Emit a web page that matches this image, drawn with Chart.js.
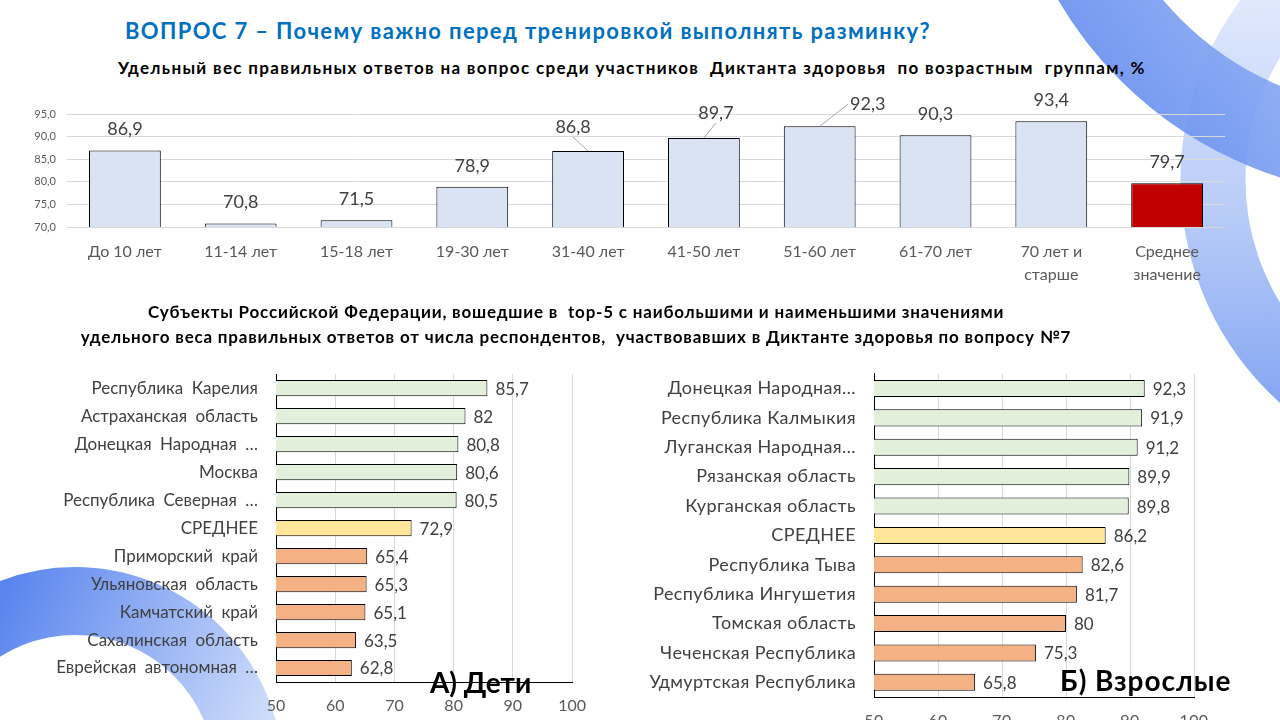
<!DOCTYPE html>
<html><head><meta charset="utf-8">
<script src="https://cdn.jsdelivr.net/npm/chart.js@4.4.1/dist/chart.umd.min.js"></script>
<style>
html,body{margin:0;padding:0;width:1280px;height:720px;overflow:hidden;background:#fff;font-family:Lato,'Noto Sans',sans-serif;}
#bg{position:absolute;left:0;top:0;z-index:0;}
canvas{position:absolute;z-index:1;}
.t{position:absolute;white-space:pre;z-index:2;font-weight:bold;}
#title{left:125px;top:17px;font-size:22px;line-height:28px;letter-spacing:1.35px;color:#0070C0;}
#sub{left:118px;top:57px;font-size:17px;line-height:22px;letter-spacing:1.33px;color:#000;}
#head{left:0;width:1152px;top:299px;font-size:17px;line-height:25px;letter-spacing:0.8px;color:#000;text-align:center;}
#capA{left:430px;top:665px;font-size:28px;line-height:34px;color:#000;}
#capB{left:1060px;top:663px;font-size:28px;line-height:34px;letter-spacing:1px;color:#000;}
</style></head>
<body>
<svg id="bg" width="1280" height="720" xmlns="http://www.w3.org/2000/svg">
<defs>
<linearGradient id="gA" x1="1060" y1="160" x2="1280" y2="0" gradientUnits="userSpaceOnUse">
<stop offset="0" stop-color="#5A84EE"/><stop offset="1" stop-color="#8FAEF4"/></linearGradient>
<linearGradient id="gB" x1="0" y1="0" x2="0" y2="430" gradientUnits="userSpaceOnUse">
<stop offset="0" stop-color="#DCE6FC"/><stop offset="0.5" stop-color="#B0C6F7"/><stop offset="1" stop-color="#7097F0"/></linearGradient>
<linearGradient id="gC" x1="0" y1="600" x2="280" y2="720" gradientUnits="userSpaceOnUse">
<stop offset="0" stop-color="#5A85EE"/><stop offset="1" stop-color="#D3E0FB"/></linearGradient>
</defs>
<circle cx="1480" cy="180" r="267" fill="none" stroke="url(#gB)" stroke-width="65" opacity="0.9"/>
<circle cx="1400" cy="-200" r="353" fill="none" stroke="url(#gA)" stroke-width="86" opacity="0.92"/>
<circle cx="75" cy="775" r="174" fill="none" stroke="url(#gC)" stroke-width="68"/>
</svg>

<div class="t" id="title">ВОПРОС 7 – Почему важно перед тренировкой выполнять разминку?</div>
<div class="t" id="sub">Удельный вес правильных ответов на вопрос среди участников  Диктанта здоровья  по возрастным  группам, %</div>
<div class="t" id="head">Субъекты Российской Федерации, вошедшие в  top-5 с наибольшими и наименьшими значениями
удельного веса правильных ответов от числа респондентов,  участвовавших в Диктанте здоровья по вопросу №7</div>

<canvas id="c1" width="1240" height="197" style="left:0;top:90px;width:1240px;height:197px"></canvas>
<canvas id="c2" width="600" height="374" style="left:0;top:346px;width:600px;height:374px"></canvas>
<canvas id="c3" width="660" height="382" style="left:620px;top:345px;width:660px;height:382px"></canvas>

<div class="t" id="capA">А) Дети</div>
<div class="t" id="capB">Б) Взрослые</div>

<script>
// ---- data ----
const ageCategories = ['До 10 лет','11-14 лет','15-18 лет','19-30 лет','31-40 лет','41-50 лет','51-60 лет','61-70 лет',['70 лет и','старше'],['Среднее','значение']];
const ageValues = [86.9,70.8,71.5,78.9,86.8,89.7,92.3,90.3,93.4,79.7];
const ageTicks = [70,75,80,85,90,95];

const childRegions = ['Республика Карелия','Астраханская область','Донецкая Народная …','Москва','Республика Северная …','СРЕДНЕЕ','Приморский край','Ульяновская область','Камчатский край','Сахалинская область','Еврейская автономная …'];
const childValues = [85.7,82,80.8,80.6,80.5,72.9,65.4,65.3,65.1,63.5,62.8];

const adultRegions = ['Донецкая Народная…','Республика Калмыкия','Луганская Народная…','Рязанская область','Курганская область','СРЕДНЕЕ','Республика Тыва','Республика Ингушетия','Томская область','Чеченская Республика','Удмуртская Республика'];
const adultValues = [92.3,91.9,91.2,89.9,89.8,86.2,82.6,81.7,80,75.3,65.8];

const regionTicks = [50,60,70,80,90,100];
const AVG_LABEL = 'СРЕДНЕЕ';

// ---- helpers ----
const FONT = 'Lato, "Noto Sans", sans-serif';
const fmt = v => String(v).replace('.', ',');
const fmt1 = v => v.toFixed(1).replace('.', ',');

const textSpacing = {
  id: 'textSpacing',
  beforeUpdate(chart, args, opts) { apply(chart, opts); },
  beforeDraw(chart, args, opts) { apply(chart, opts); }
};
function apply(chart, opts) {
  const ctx = chart.ctx;
  if (opts && opts.letter) ctx.letterSpacing = opts.letter;
  if (opts && opts.word) ctx.wordSpacing = opts.word;
}

const valueLabels = {
  id: 'valueLabels',
  afterDatasetsDraw(chart, args, opts) {
    const ctx = chart.ctx;
    const meta = chart.getDatasetMeta(0);
    const data = chart.data.datasets[0].data;
    ctx.save();
    ctx.letterSpacing = '0px';
    ctx.wordSpacing = '0px';
    ctx.font = opts.font;
    ctx.fillStyle = opts.color;
    meta.data.forEach((el, i) => {
      const txt = fmt(data[i]);
      if (chart.options.indexAxis === 'y') {
        ctx.textAlign = 'left';
        ctx.textBaseline = 'middle';
        ctx.fillText(txt, el.x + opts.gap, el.y + 1);
      } else {
        const off = (opts.offsets && opts.offsets[i]) || [0, 0];
        const lx = el.x + off[0], ly = el.y - opts.gap + off[1];
        if (off[0] || off[1]) {
          const tw = ctx.measureText(txt).width;
          let ex, ey;
          if (Math.abs(off[0]) > tw / 2) { ex = lx - Math.sign(off[0]) * (tw / 2 + 2); ey = ly; }
          else { ex = lx; ey = ly + 10; }
          ctx.strokeStyle = '#A6A6A6';
          ctx.lineWidth = 1;
          ctx.beginPath(); ctx.moveTo(el.x, el.y); ctx.lineTo(ex, ey); ctx.stroke();
        }
        ctx.textAlign = 'center';
        ctx.textBaseline = 'middle';
        ctx.fillText(txt, lx, ly);
      }
    });
    ctx.restore();
  }
};

// ---- top chart ----
new Chart(document.getElementById('c1'), {
  type: 'bar',
  data: {
    labels: ageCategories,
    datasets: [{
      data: ageValues,
      backgroundColor: ageValues.map((v, i) => i === ageValues.length - 1 ? '#C00000' : '#DAE3F3'),
      borderColor: '#000', borderWidth: 1,
      barPercentage: 0.62, categoryPercentage: 1
    }]
  },
  plugins: [valueLabels],
  options: {
    responsive: false, animation: false, events: [],
    layout: { padding: { top: 24, right: 15, left: 0, bottom: 0 } },
    plugins: {
      legend: { display: false }, tooltip: { enabled: false },
      valueLabels: { font: '18px ' + FONT, color: '#404040', gap: 21,
        offsets: { 4: [-15, -3], 5: [12, -4], 6: [48, -1] } }
    },
    scales: {
      y: {
        min: 70, max: 95,
        afterBuildTicks(s) { s.ticks = ageTicks.map(v => ({ value: v })); },
        afterFit(s) { s.width = 67; },
        grid: { color: '#D9D9D9', drawTicks: false },
        border: { display: false },
        ticks: { padding: 11, color: '#595959', font: { family: FONT, size: 11 }, callback: v => fmt1(v) }
      },
      x: {
        afterFit(s) { s.height = 60; },
        grid: { display: false, drawTicks: false },
        border: { display: false },
        ticks: { padding: 14, color: '#595959', font: { family: FONT, size: 16, lineHeight: 1.4 }, maxRotation: 0, autoSkip: false }
      }
    }
  }
});

// ---- horizontal charts ----
function regionColors(labels) {
  const a = labels.indexOf(AVG_LABEL);
  return labels.map((l, i) => i < a ? '#E2EFDA' : (i === a ? '#FFE699' : '#F4B183'));
}
function hbar(id, labels, values, yWidth, pad, labelSize, labelPad, spacing) {
  new Chart(document.getElementById(id), {
    type: 'bar',
    data: {
      labels: labels,
      datasets: [{
        data: values,
        backgroundColor: regionColors(labels),
        borderColor: '#000', borderWidth: 1,
        barPercentage: 0.58, categoryPercentage: 1
      }]
    },
    plugins: [textSpacing, valueLabels],
    options: {
      indexAxis: 'y',
      responsive: false, animation: false, events: [],
      layout: { padding: pad },
      plugins: {
        legend: { display: false }, tooltip: { enabled: false },
        textSpacing: spacing,
        valueLabels: { font: '17px ' + FONT, color: '#404040', gap: 8 }
      },
      scales: {
        x: {
          min: 50, max: 100,
          afterBuildTicks(s) { s.ticks = regionTicks.map(v => ({ value: v })); },
          afterFit(s) { s.height = pad.xh; },
          grid: { color: '#D9D9D9', drawTicks: false },
          border: { color: '#000', width: 1 },
          ticks: { padding: 14, color: '#595959', font: { family: FONT, size: 16 } }
        },
        y: {
          afterFit(s) { s.width = yWidth; },
          grid: { display: false, drawTicks: false },
          border: { color: '#000', width: 1 },
          ticks: { padding: labelPad, color: '#404040', font: { family: FONT, size: labelSize }, autoSkip: false }
        }
      }
    }
  });
}
hbar('c2', childRegions, childValues, 276, { top: 8, right: 22, left: 0, bottom: 0, xh: 38 }, 17, 18, { word: '4px' });
hbar('c3', adultRegions, adultValues, 254, { top: 6, right: 86, left: 0, bottom: 0, xh: 30 }, 18, 18, { letter: '0.4px' });
</script>
</body></html>
